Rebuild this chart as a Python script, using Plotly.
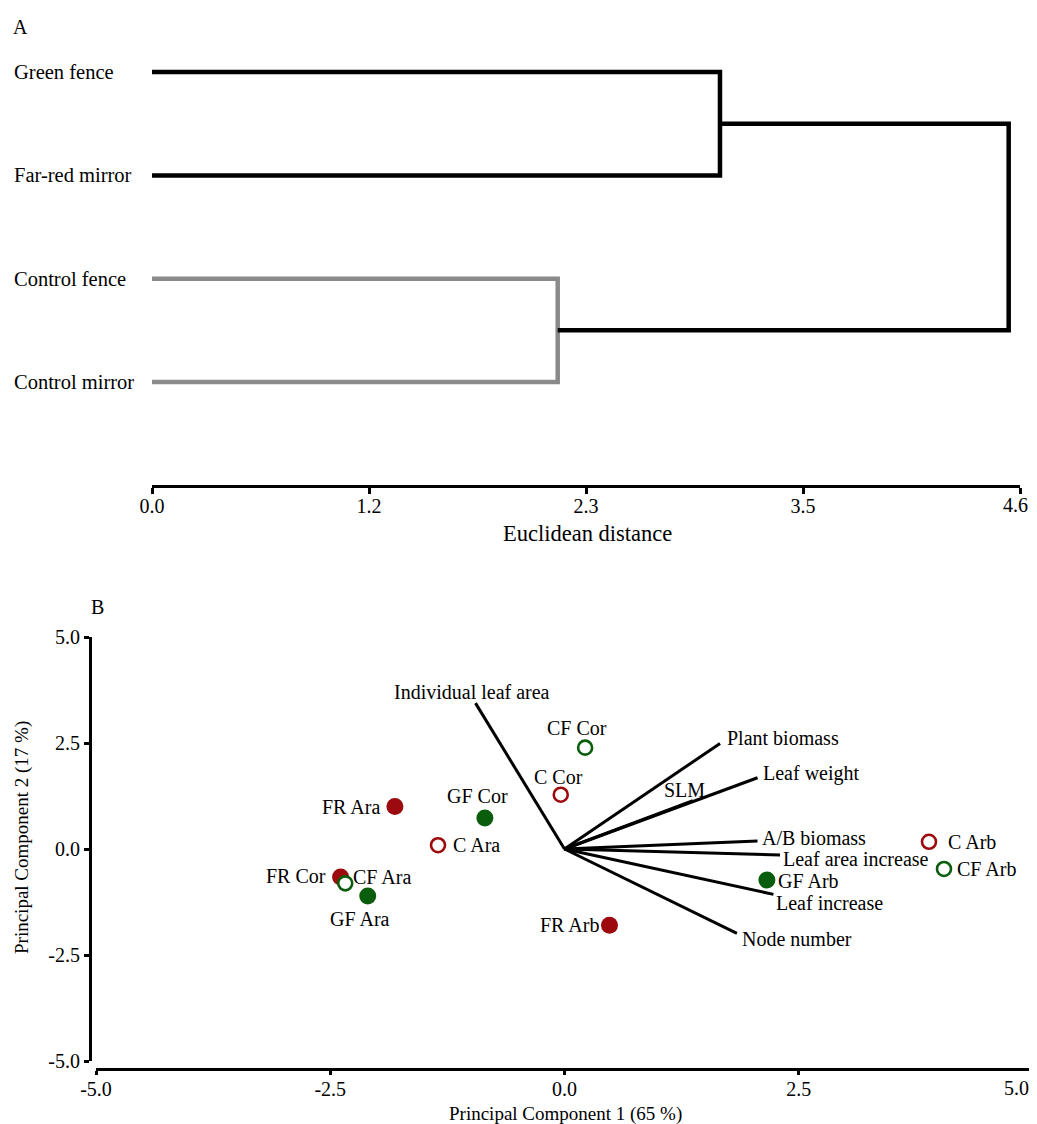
import plotly.graph_objects as go

# The page body has an 8px margin: the figure is drawn 8px in, so it is sized to fill the rest.
OFF = 8
W, H = 1037 - OFF, 1124 - OFF
FONT = "Liberation Serif"

# ---------------- Panel A data (dendrogram) ----------------
leaves = ["Green fence", "Far-red mirror", "Control fence", "Control mirror"]
merge_green_farred = 3.01     # Euclidean distance of first cluster
merge_control = 2.15          # Euclidean distance of control cluster
merge_root = 4.54             # root merge
dist_tickvals = [0.0, 1.15, 2.3, 3.45, 4.6]
dist_ticktext = ["0.0", "1.2", "2.3", "3.5", "4.6"]

# ---------------- Panel B data (PCA biplot) ----------------
samples = ["CF Cor", "C Cor", "FR Ara", "GF Cor", "C Ara", "FR Cor",
           "CF Ara", "GF Ara", "FR Arb", "GF Arb", "C Arb", "CF Arb"]
pc1 = [0.22, -0.04, -1.81, -0.85, -1.35, -2.39, -2.34, -2.10, 0.48, 2.16, 3.89, 4.05]
pc2 = [2.39, 1.28, 1.00, 0.73, 0.09, -0.66, -0.81, -1.11, -1.80, -0.73, 0.17, -0.47]

variables = ["Individual leaf area", "Plant biomass", "Leaf weight", "SLM",
             "A/B biomass", "Leaf area increase", "Leaf increase", "Node number"]
load1 = [-0.95, 1.66, 2.06, 1.37, 2.06, 2.30, 2.23, 1.84]
load2 = [3.44, 2.49, 1.68, 1.14, 0.19, -0.14, -1.07, -1.99]

pc_tickvals = [-5.0, -2.5, 0.0, 2.5, 5.0]
pc_ticktext = ["-5.0", "-2.5", "0.0", "2.5", "5.0"]

# ---------------- styles ----------------
RED = "#9c0a0e"
GREEN = "#0b5d0e"
GRAY = "#8a8a8a"
group_style = {  # prefix -> (edge colour, filled?)
    "FR": (RED, True),
    "GF": (GREEN, True),
    "C": (RED, False),
    "CF": (GREEN, False),
}
sample_label_pos = {  # name -> (xanchor, xshift, yshift)
    "CF Cor": ("center", -8, 20), "C Cor": ("center", -2, 18),
    "FR Ara": ("right", -13, 0), "GF Cor": ("center", -7, 22),
    "C Ara": ("left", 13, 0), "FR Cor": ("right", -13, 1),
    "CF Ara": ("left", 6, 6), "GF Ara": ("center", -8, -23),
    "FR Arb": ("right", -8, 0), "GF Arb": ("left", 9, -1),
    "C Arb": ("left", 17, 0), "CF Arb": ("left", 11, 0),
}
var_label_pos = {
    "Individual leaf area": ("center", -3, 11), "Plant biomass": ("left", 5, 5),
    "Leaf weight": ("left", 3, 4), "SLM": ("center", -8, 11),
    "A/B biomass": ("left", 2, 3), "Leaf area increase": ("left", 1, -4),
    "Leaf increase": ("left", 1, -9), "Node number": ("left", 3, -6),
}


def px(x):
    return (x - OFF) / W


def py(y):
    return 1 - (y - OFF) / H


fig = go.Figure()

# ---------------- dendrogram ----------------
leaf_y = {name: len(leaves) - 1 - i for i, name in enumerate(leaves)}
LW = 4.5


def seg(xs, ys, color):
    fig.add_trace(go.Scatter(x=xs, y=ys, mode="lines", xaxis="x", yaxis="y",
                             line=dict(color=color, width=LW),
                             hoverinfo="skip", showlegend=False))


y_g, y_f = leaf_y["Green fence"], leaf_y["Far-red mirror"]
y_cf, y_cm = leaf_y["Control fence"], leaf_y["Control mirror"]
mid1 = (y_g + y_f) / 2
mid2 = (y_cf + y_cm) / 2
seg([0, merge_green_farred, merge_green_farred, 0], [y_g, y_g, y_f, y_f], "black")
seg([0, merge_control, merge_control, 0], [y_cf, y_cf, y_cm, y_cm], GRAY)
seg([merge_green_farred, merge_root, merge_root, merge_control], [mid1, mid1, mid2, mid2], "black")

# ---------------- biplot vectors ----------------
vx, vy = [], []
for a, b in zip(load1, load2):
    vx += [0, a, None]
    vy += [0, b, None]
fig.add_trace(go.Scatter(x=vx, y=vy, mode="lines", xaxis="x2", yaxis="y2",
                         line=dict(color="black", width=3),
                         hoverinfo="skip", showlegend=False))

# ---------------- biplot points ----------------
for prefix in ["FR", "GF", "C", "CF"]:
    color, filled = group_style[prefix]
    idx = [i for i, s in enumerate(samples) if s.split(" ")[0] == prefix]
    fig.add_trace(go.Scatter(
        x=[pc1[i] for i in idx], y=[pc2[i] for i in idx],
        mode="markers", xaxis="x2", yaxis="y2", showlegend=False,
        text=[samples[i] for i in idx], hoverinfo="text",
        marker=dict(symbol="circle", size=17 if filled else 14,
                    color=color if filled else "white",
                    line=dict(color=color, width=0 if filled else 2.6)),
    ))

LABEL_SIZE = 20
ann = []
for s, a, b in zip(samples, pc1, pc2):
    xa, xs, ys = sample_label_pos[s]
    ann.append(dict(x=a, y=b, xref="x2", yref="y2", text=s, showarrow=False,
                    xanchor=xa, yanchor="middle", xshift=xs, yshift=ys,
                    font=dict(family=FONT, size=LABEL_SIZE, color="black")))
for v, a, b in zip(variables, load1, load2):
    xa, xs, ys = var_label_pos[v]
    ann.append(dict(x=a, y=b, xref="x2", yref="y2", text=v, showarrow=False,
                    xanchor=xa, yanchor="middle", xshift=xs, yshift=ys,
                    font=dict(family=FONT, size=LABEL_SIZE, color="black")))

# leaf labels
for name in leaves:
    ann.append(dict(x=px(12), y=leaf_y[name], xref="paper", yref="y", text=name,
                    showarrow=False, xanchor="left", yanchor="middle",
                    font=dict(family=FONT, size=20.5, color="black")))

tickfont = dict(family=FONT, size=20, color="black")

# last tick labels of both x axes sit flush with the figure's right edge
ann.append(dict(x=pc_tickvals[-1], y=py(1088), xref="x2", yref="paper",
                text=pc_ticktext[-1], showarrow=False, xanchor="right",
                yanchor="middle", xshift=-2, font=tickfont))
bottom_ticktext = pc_ticktext[:-1] + [""]
ann.append(dict(x=dist_tickvals[-1], y=py(505), xref="x", yref="paper",
                text=dist_ticktext[-1], showarrow=False, xanchor="right",
                yanchor="middle", xshift=10, font=tickfont))
top_ticktext = dist_ticktext[:-1] + [""]

# panel letters and titles
ann += [
    dict(x=px(20), y=py(27), xref="paper", yref="paper", text="A", showarrow=False,
         xanchor="center", yanchor="middle", font=dict(family=FONT, size=20, color="black")),
    dict(x=px(97), y=py(607), xref="paper", yref="paper", text="B", showarrow=False,
         xanchor="center", yanchor="middle", font=dict(family=FONT, size=20, color="black")),
    dict(x=px(587), y=py(533), xref="paper", yref="paper", text="Euclidean distance",
         showarrow=False, xanchor="center", yanchor="middle",
         font=dict(family=FONT, size=22.5, color="black")),
    dict(x=px(565), y=py(1114), xref="paper", yref="paper", text="Principal Component 1 (65 %)",
         showarrow=False, xanchor="center", yanchor="middle",
         font=dict(family=FONT, size=19, color="black")),
    dict(x=px(22), y=py(838), xref="paper", yref="paper", text="Principal Component 2 (17 %)",
         showarrow=False, xanchor="center", yanchor="middle", textangle=-90,
         font=dict(family=FONT, size=19, color="black")),
]

# top panel y mapping: leaf 0 at 382px, spacing 103.3px
unit = 103.3
yA_bot, yA_top = 485, 30
fig.update_layout(
    template="none",
    width=W, height=H,
    margin=dict(l=0, r=0, t=0, b=0, pad=0),
    paper_bgcolor="white", plot_bgcolor="white",
    showlegend=False,
    annotations=ann,
    xaxis=dict(domain=[px(152), px(1020)], range=[0, 4.6], anchor="y",
               showline=True, linecolor="black", linewidth=3, automargin=False,
               ticks="outside", ticklen=6, tickwidth=2.5, tickcolor="black",
               ticklabelstandoff=-5,
               tickvals=dist_tickvals, ticktext=top_ticktext, tickfont=tickfont,
               showgrid=False, zeroline=False),
    yaxis=dict(domain=[py(yA_bot), py(yA_top)], automargin=False,
               range=[-(yA_bot - 382) / unit, (382 - yA_top) / unit],
               visible=False, showgrid=False, zeroline=False),
    xaxis2=dict(domain=[px(96), px(1033)], range=[-5, 5], anchor="free", position=py(1069),
                showline=True, linecolor="black", linewidth=3, automargin=False,
                ticks="outside", ticklen=4, tickwidth=2.5, tickcolor="black",
                ticklabelstandoff=-3,
                tickvals=pc_tickvals, ticktext=bottom_ticktext, tickfont=tickfont,
                showgrid=False, zeroline=False),
    yaxis2=dict(domain=[py(1061), py(637)], range=[-5, 5], anchor="free", position=px(90),
                showline=True, linecolor="black", linewidth=3, automargin=False,
                ticks="outside", ticklen=5, tickwidth=2.5, tickcolor="black",
                tickvals=pc_tickvals, ticktext=pc_ticktext, tickfont=tickfont,
                showgrid=False, zeroline=False),
)

fig.write_html("out.html")
